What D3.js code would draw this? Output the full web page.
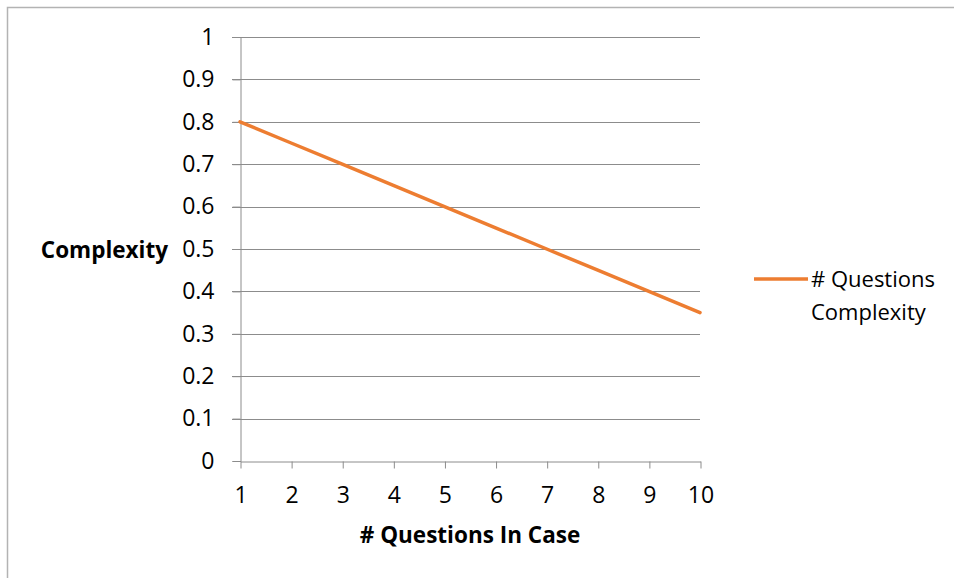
<!DOCTYPE html>
<html>
<head>
<meta charset="utf-8">
<script src="https://cdn.jsdelivr.net/npm/d3@7"></script>
<style>
  body { margin: 0; background: #fff; }
  text { font-family: "Open Sans", "Liberation Sans", sans-serif; }
</style>
</head>
<body>
<div id="container"></div>
<script>
/* CONSTANTS AND GLOBALS */
const width = 954,
  height = 578,
  margin = { top: 37, bottom: 117, left: 240, right: 254 };

/* DATA */
const questions = [1, 2, 3, 4, 5, 6, 7, 8, 9, 10];
const complexity = [0.8, 0.75, 0.7, 0.65, 0.6, 0.55, 0.5, 0.45, 0.4, 0.35];
const yTicks = [0, 0.1, 0.2, 0.3, 0.4, 0.5, 0.6, 0.7, 0.8, 0.9, 1];
const seriesName = ["# Questions", "Complexity"];

const data = questions.map((q, i) => ({ q: q, c: complexity[i] }));

const svg = d3.select("#container")
  .append("svg")
  .attr("width", width)
  .attr("height", height);

// outer frame
svg.append("rect")
  .attr("x", 7.5).attr("y", 7.5)
  .attr("width", width).attr("height", height)
  .attr("fill", "none")
  .attr("stroke", "#b3b3b3")
  .attr("stroke-width", 1.5);

// SCALES
const xScale = d3.scaleLinear()
  .domain([1, 10])
  .range([margin.left, width - margin.right]);

const yScale = d3.scaleLinear()
  .domain([0, 1])
  .range([height - margin.bottom, margin.top]);

// gridlines
svg.append("g")
  .selectAll("line")
  .data(yTicks.filter(d => d > 0))
  .join("line")
  .attr("x1", margin.left - 8)
  .attr("x2", width - margin.right)
  .attr("y1", d => Math.round(yScale(d)) + 0.5)
  .attr("y2", d => Math.round(yScale(d)) + 0.5)
  .attr("stroke", "#8c8c8c")
  .attr("stroke-width", 1);

// y axis
const yAxis = d3.axisLeft(yScale)
  .tickValues(yTicks)
  .tickSize(8)
  .tickPadding(18)
  .tickFormat(d => d === 0 || d === 1 ? d3.format("d")(d) : d3.format(".1f")(d));

svg.append("g")
  .attr("transform", `translate(${margin.left + 0.5}, 0)`)
  .call(yAxis)
  .call(g => g.select(".domain").attr("stroke", "#8c8c8c"))
  .call(g => g.selectAll(".tick line").attr("stroke", "#8c8c8c"))
  .call(g => g.selectAll("text").attr("font-size", 23).attr("fill", "#000"));

// x axis
const xAxis = d3.axisBottom(xScale)
  .tickValues(questions)
  .tickSize(7)
  .tickSizeOuter(0)
  .tickPadding(18)
  .tickFormat(d3.format("d"));

svg.append("g")
  .attr("transform", `translate(0.5, ${Math.round(yScale(0)) + 0.5})`)
  .call(xAxis)
  .call(g => g.select(".domain").attr("stroke", "#8c8c8c"))
  .call(g => g.selectAll(".tick line").attr("stroke", "#8c8c8c"))
  .call(g => g.selectAll("text").attr("font-size", 23).attr("fill", "#000"));

// axis titles
svg.append("text")
  .attr("x", (margin.left + width - margin.right) / 2)
  .attr("y", 543)
  .attr("text-anchor", "middle")
  .attr("font-size", 22.5)
  .attr("font-weight", "bold")
  .text("# Questions In Case");

svg.append("text")
  .attr("x", 168)
  .attr("y", 258)
  .attr("text-anchor", "end")
  .attr("font-size", 22.5)
  .attr("font-weight", "bold")
  .text("Complexity");

// DRAW LINE
const drawLine = d3.line()
  .x(d => xScale(d.q))
  .y(d => yScale(d.c));

svg.append("path")
  .datum(data)
  .attr("fill", "none")
  .attr("stroke", "#ED7D31")
  .attr("stroke-width", 3.5)
  .attr("stroke-linecap", "round")
  .attr("d", drawLine);

// legend
const legend = svg.append("g").attr("transform", "translate(754, 279)");
legend.append("line")
  .attr("x1", 0).attr("x2", 54)
  .attr("stroke", "#ED7D31")
  .attr("stroke-width", 3.5);
legend.selectAll("text")
  .data(seriesName)
  .join("text")
  .attr("x", 57)
  .attr("y", (d, i) => 8 + i * 33)
  .attr("font-size", 22)
  .text(d => d);
</script>
</body>
</html>
